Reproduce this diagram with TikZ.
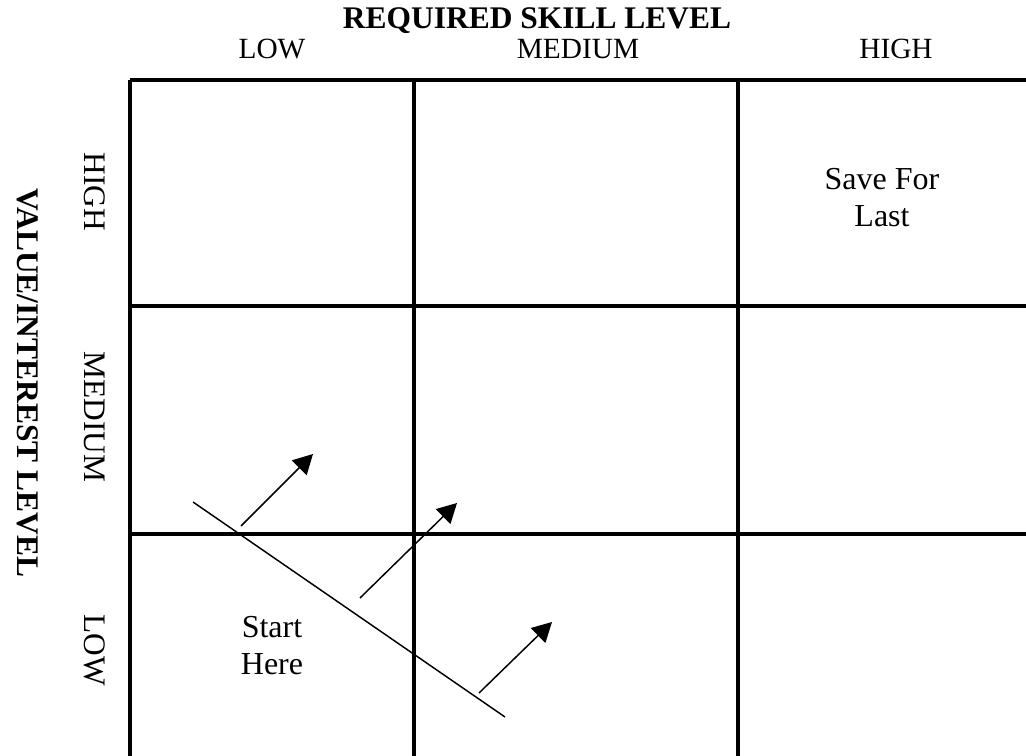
\documentclass[tikz,border=0pt]{standalone}
\usepackage{fontspec}
\setmainfont{Liberation Serif}
\usetikzlibrary{arrows.meta}
\begin{document}
\begin{tikzpicture}[x=0.75pt,y=-0.75pt,
  gridline/.style={line width=2.4pt},
  frontline/.style={line width=1.1pt},
  pusharrow/.style={line width=1.1pt,-{Triangle[length=14.6pt,width=15.5pt]}},
  axistitle/.style={font=\fontsize{23.6}{28}\selectfont\bfseries,inner sep=0pt},
  collabel/.style={font=\fontsize{22}{26}\selectfont,inner sep=0pt},
  rowlabel/.style={font=\fontsize{23.5}{28}\selectfont,inner sep=0pt,rotate=-90},
  celltext/.style={font=\fontsize{24}{27.8}\selectfont,align=center,inner sep=0pt}]
\useasboundingbox (0,0) rectangle (1026,756);

% grid (right and bottom edges run off the page)
\draw[gridline] (130,80) -- (1026,80);
\draw[gridline] (130,80) -- (130,756);
\draw[gridline] (414,80) -- (414,756);
\draw[gridline] (738,80) -- (738,756);
\draw[gridline] (130,306) -- (1026,306);
\draw[gridline] (130,534) -- (1026,534);

% axis titles
\node[axistitle] (xtitle) at (537,21) {REQUIRED SKILL LEVEL};
\node[axistitle,rotate=-90] (ytitle) at (28,383) {VALUE/INTEREST LEVEL};

% column labels
\node[collabel] (xlow) at (272,49) {LOW};
\node[collabel] (xmed) at (578,49) {MEDIUM};
\node[collabel] (xhigh) at (896,49) {HIGH};

% row labels
\node[rowlabel] (yhigh) at (95,192) {HIGH};
\node[rowlabel] (ymed) at (95,417) {MEDIUM};
\node[rowlabel] (ylow) at (95,650) {LOW};

% cell texts
\node[celltext] (start) at (272,646) {Start\\Here};
\node[celltext] (last) at (882,198) {Save For\\Last};

% diagonal front and its arrows
\coordinate (d1) at (193,502);
\coordinate (d2) at (505,717);
\draw[frontline] (d1) -- (d2);

\coordinate (a1s) at (241,526);
\coordinate (a1e) at (313,454);
\coordinate (a2s) at (360,598);
\coordinate (a2e) at (457,503);
\coordinate (a3s) at (479,693);
\coordinate (a3e) at (552,622);
\draw[pusharrow] (a1s) -- (a1e);
\draw[pusharrow] (a2s) -- (a2e);
\draw[pusharrow] (a3s) -- (a3e);
\end{tikzpicture}
\end{document}
